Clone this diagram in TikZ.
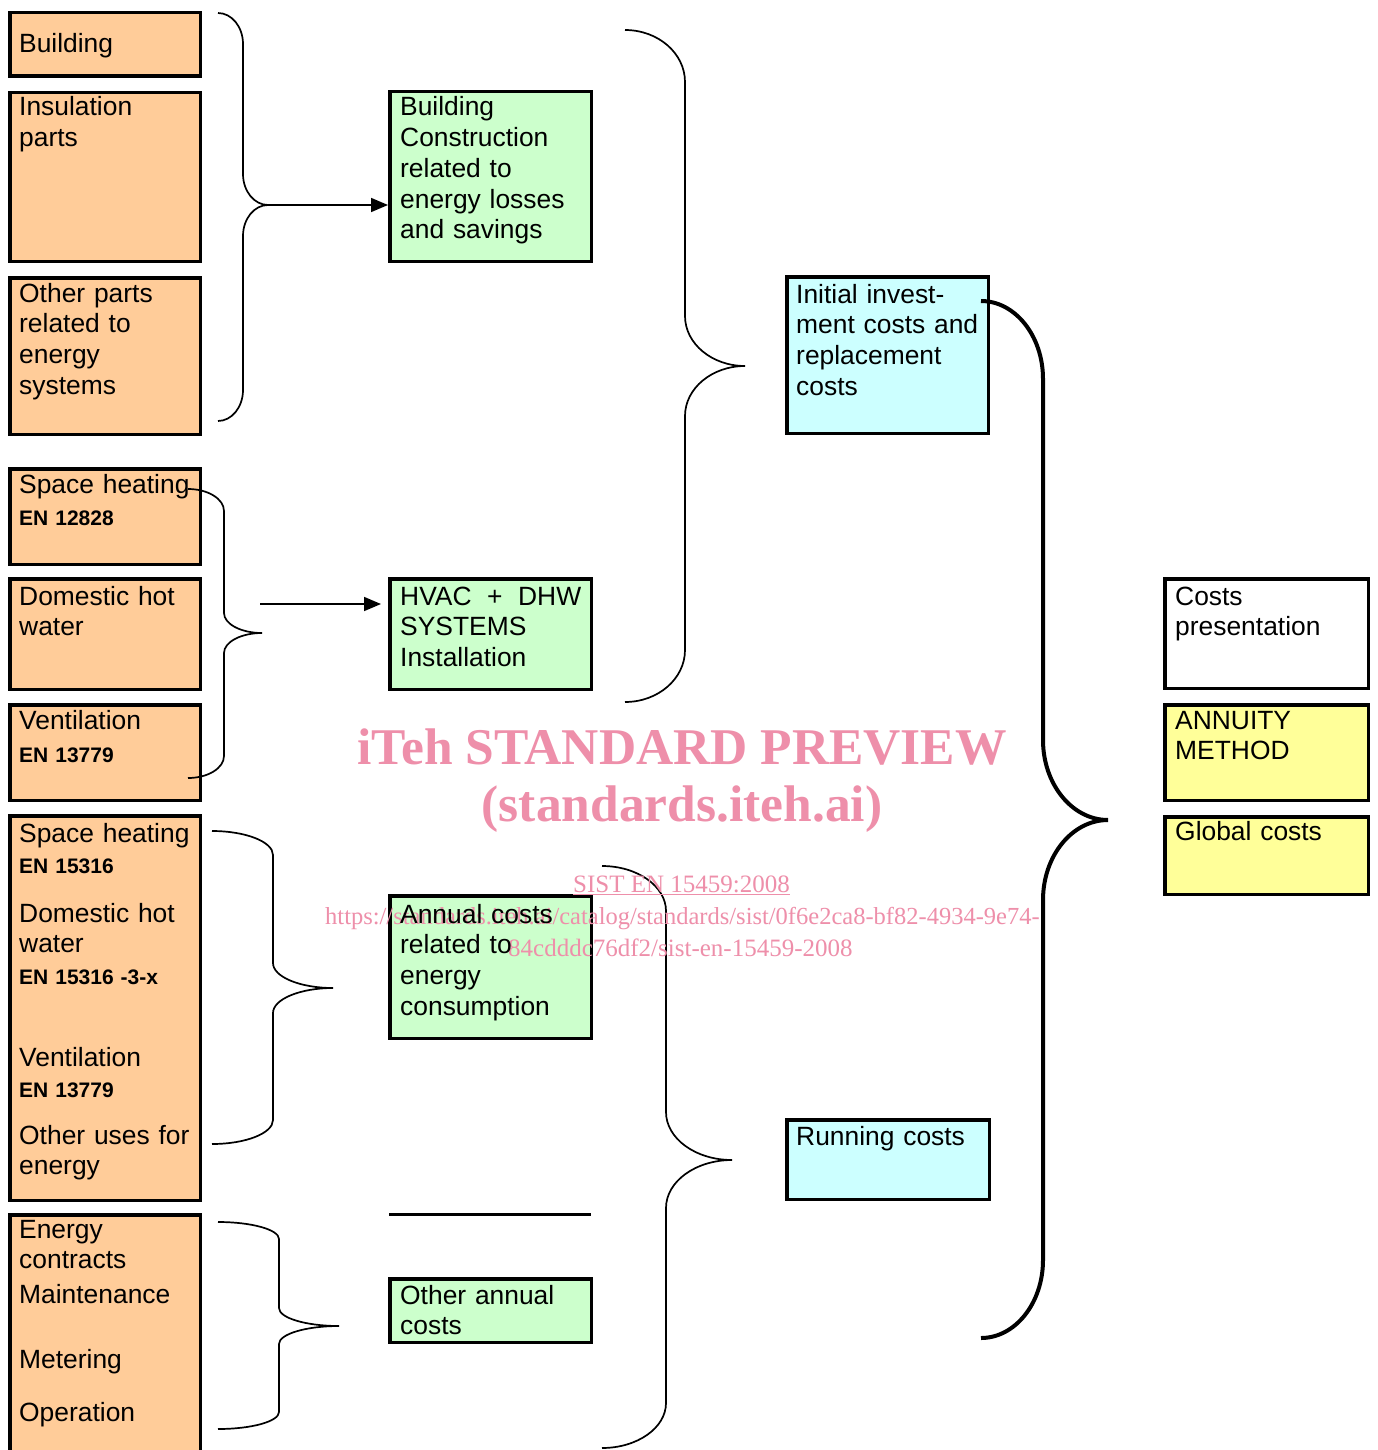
\documentclass[tikz,border=0pt]{standalone}
\usepackage{fontspec}
\setmainfont{Liberation Sans}
\newfontfamily\wmfont{Liberation Serif}
\usetikzlibrary{arrows.meta}
\definecolor{orng}{RGB}{255,204,153}
\definecolor{grn}{RGB}{204,255,204}
\definecolor{cyn}{RGB}{204,255,255}
\definecolor{ylw}{RGB}{255,255,153}
\definecolor{wm}{RGB}{238,143,170}
\newcommand\mybox[6]{\node[boxst,fill=#6,minimum width={(#4-#2-3.5)*1pt},minimum height={(#5-#3-3.5)*1pt}] (#1) at ({(#2+#4)/2},{(#3+#5)/2}) {};}
\newcommand\mybrace[9]{\draw[#9] (#1,#2) .. controls ({#1+0.552*(#4-#1)},#2) and (#4,{#2+0.448*#7}) .. (#4,{#2+#7}) -- (#4,{#6-#8}) .. controls (#4,{#6-0.448*#8}) and ({#4+0.448*(#5-#4)},#6) .. (#5,#6) .. controls ({#4+0.448*(#5-#4)},#6) and (#4,{#6+0.448*#8}) .. (#4,{#6+#8}) -- (#4,{#3-#7}) .. controls (#4,{#3-0.448*#7}) and ({#1+0.552*(#4-#1)},#3) .. (#1,#3);}
\tikzset{
  boxst/.style={draw=black,line width=3.5pt,inner sep=0pt,rectangle},
  txt/.style={anchor=base west,inner sep=0pt,text width=200pt,align=left,font=\fontsize{26.4}{30.7}\selectfont},
  entxt/.style={anchor=base west,inner sep=0pt,text width=200pt,align=left,font=\fontsize{21}{24}\selectfont\bfseries},
  brc/.style={line width=1.7pt},
  bigbrc/.style={line width=4pt},
  arr/.style={line width=1.7pt,-{Triangle[length=17pt,width=14pt]}},
  wmst/.style={inner sep=0pt,text=wm}
}
\begin{document}
\begin{tikzpicture}[x=1pt,y=-1pt]
\useasboundingbox[fill=white] (0,0) rectangle (1377,1450);
% orange boxes
\mybox{bBuild}{8}{11}{202}{78}{orng}
\mybox{bInsul}{8}{91}{202}{263}{orng}
\mybox{bOther}{8}{276}{202}{436}{orng}
\mybox{bSH}{8}{467}{202}{566}{orng}
\mybox{bDHW}{8}{577}{202}{691}{orng}
\mybox{bVent}{8}{703}{202}{802}{orng}
\mybox{bBig}{8}{814}{202}{1202}{orng}
\mybox{bEnergy}{8}{1213}{202}{1475}{orng}
% green boxes
\mybox{bBC}{388}{90}{593}{263}{grn}
\mybox{bHVAC}{388}{577}{593}{691}{grn}
\mybox{bAnn}{388}{894}{593}{1040}{grn}
\mybox{bOAC}{388}{1277}{593}{1344}{grn}
\draw[line width=3pt] (389,1214) -- (591,1214);
% cyan boxes
\mybox{bInit}{785}{275}{990}{435}{cyn}
\mybox{bRun}{785}{1118}{991}{1201}{cyn}
% right column
\mybox{bCP}{1163}{577}{1370}{690}{white}
\mybox{bAnnu}{1163}{703}{1370}{802}{ylw}
\mybox{bGlob}{1163}{815}{1370}{896}{ylw}
% braces
\mybrace{218}{13}{421}{243}{268}{205}{31}{31}{brc}
\coordinate (tip1) at (268,205);
\mybrace{188}{489}{778}{224}{262}{633}{22}{20}{brc}
\mybrace{625}{30}{702}{685}{745}{366}{52}{50}{brc}
\mybrace{212}{831}{1144}{273}{333}{988}{24}{25}{brc}
\mybrace{218}{1222}{1429}{279}{339}{1326}{17}{18}{brc}
\mybrace{602}{866}{1448}{666}{732}{1160}{45}{48}{brc}
\mybrace{981}{301}{1338}{1043}{1108}{820}{78}{80}{bigbrc}
% arrows
\draw[arr] (tip1) -- (tip1 -| bBC.west);
\coordinate (a2) at (260,604);
\draw[arr,shorten >=7pt] (a2) -- (a2 -| bHVAC.west);
% watermark
\node[wmst,anchor=base,font=\wmfont\bfseries\fontsize{51.5}{51.5}\selectfont] (wm1) at (682,764) {iTeh STANDARD PREVIEW};
\node[wmst,anchor=base,font=\wmfont\bfseries\fontsize{51.5}{51.5}\selectfont] (wm2) at (682,821) {(standards.iteh.ai)};
\node[wmst,anchor=base west,font=\wmfont\fontsize{25}{25}\selectfont] (wm3) at (573,892) {\underline{SIST EN 15459:2008}};
\node[wmst,anchor=base west,font=\wmfont\fontsize{24.5}{24.5}\selectfont] (wm4) at (325,924) {https://standards.iteh.ai/catalog/standards/sist/0f6e2ca8-bf82-4934-9e74-};
\node[wmst,anchor=base west,font=\wmfont\fontsize{25}{25}\selectfont] (wm5) at (508,956) {84cdddc76df2/sist-en-15459-2008};
% texts left column
\node[txt] (t1) at (19,53) {Building};
\node[txt] (t2) at (19,116) {Insulation\\parts};
\node[txt] (t3) at (19,302) {Other parts\\related to\\energy\\systems};
\node[txt] (t4) at (19,493) {Space heating};
\node[entxt] (t5) at (19,525) {EN 12828};
\node[txt] (t6) at (19,605) {Domestic hot\\water};
\node[txt] (t7) at (19,729) {Ventilation};
\node[entxt] (t8) at (19,762) {EN 13779};
\node[txt] (t9) at (19,842) {Space heating};
\node[entxt] (t10) at (19,873) {EN 15316};
\node[txt] (t11) at (19,922) {Domestic hot\\water};
\node[entxt] (t12) at (19,984) {EN 15316 -3-x};
\node[txt] (t13) at (19,1066) {Ventilation};
\node[entxt] (t14) at (19,1097) {EN 13779};
\node[txt] (t15) at (19,1144) {Other uses for\\energy};
\node[txt] (t16) at (19,1238) {Energy\\contracts};
\node[txt] (t17) at (19,1303) {Maintenance};
\node[txt] (t18) at (19,1368) {Metering};
\node[txt] (t19) at (19,1421) {Operation};
% texts middle
\node[txt] (t20) at (400,116) {Building\\Construction\\related to\\energy losses\\and savings};
\node[txt] (t21) at (400,605) {\makebox[181pt][s]{HVAC\hfill+\hfill DHW}\\SYSTEMS\\Installation};
\node[txt] (t22) at (400,923) {Annual costs\\related to\\energy\\consumption};
\node[txt] (t23) at (400,1304) {Other annual\\costs};
\node[txt] (t24) at (796,303) {Initial invest-\\ment costs and\\replacement\\costs};
\node[txt] (t25) at (796,1145) {Running costs};
\node[txt] (t26) at (1175,605) {Costs\\presentation};
\node[txt] (t27) at (1175,729) {ANNUITY\\METHOD};
\node[txt] (t28) at (1175,840) {Global costs};
\end{tikzpicture}
\end{document}
